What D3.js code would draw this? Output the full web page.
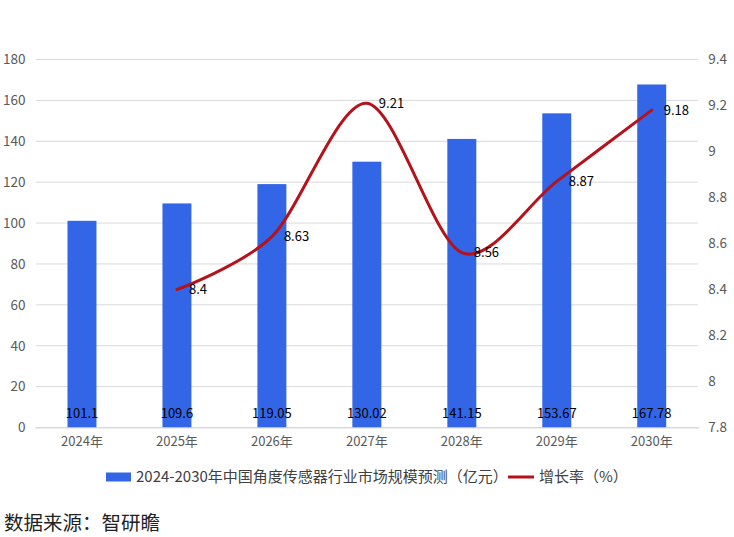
<!DOCTYPE html>
<html><head><meta charset="utf-8">
<script src="https://cdn.jsdelivr.net/npm/d3@7"></script>
<style>body{margin:0;background:#fff;} svg{display:block;}</style>
</head><body>
<svg id="c" width="734" height="537"></svg>
<script>
const categories = ["2024年","2025年","2026年","2027年","2028年","2029年","2030年"];
const marketSize = [101.1,109.6,119.05,130.02,141.15,153.67,167.78];
const growthRate = [null,8.4,8.63,9.21,8.56,8.87,9.18];
const leftTicks = [0,20,40,60,80,100,120,140,160,180];
const rightTicks = [7.8,8,8.2,8.4,8.6,8.8,9,9.2,9.4];
const barLabel = "2024-2030年中国角度传感器行业市场规模预测（亿元）";
const lineLabel = "增长率（%）";
const sourceText = "数据来源：智研瞻";

const font = "'Noto Sans CJK SC', 'Noto Sans', sans-serif";
const svg = d3.select("#c");
const L = 34.5, R = 699.2, T = 59.5, B = 427.5;
const x = d3.scaleBand().domain(categories).range([L, R]).paddingInner(0.695).paddingOuter(0.3475);
const yL = d3.scaleLinear().domain([0,180]).range([B,T]);
const yR = d3.scaleLinear().domain([7.8,9.4]).range([B,T]);

// gridlines
svg.append("g").selectAll("line").data(leftTicks).join("line")
  .attr("x1", 36).attr("x2", 698).attr("y1", d=>yL(d)).attr("y2", d=>yL(d))
  .attr("stroke", "#d9d9d9").attr("stroke-width", 1);

// left axis
const gl = svg.append("g").attr("transform", `translate(${L},0)`)
  .call(d3.axisLeft(yL).tickValues(leftTicks).tickSize(0).tickPadding(9));
gl.select(".domain").remove();
gl.selectAll("text").attr("font-family", font).attr("font-size", 13.5).attr("fill", "#595959");

// right axis
const gr = svg.append("g").attr("transform", `translate(${R},0)`)
  .call(d3.axisRight(yR).tickValues(rightTicks).tickFormat(d3.format("~g")).tickSize(0).tickPadding(9));
gr.select(".domain").remove();
gr.selectAll("text").attr("font-family", font).attr("font-size", 13.5).attr("fill", "#595959");

// bars
svg.append("g").selectAll("rect").data(marketSize).join("rect")
  .attr("x", (d,i)=>x(categories[i])).attr("width", x.bandwidth())
  .attr("y", d=>yL(d)).attr("height", d=>B - yL(d))
  .attr("fill", "#3366e6");

// bottom axis
const gb = svg.append("g").attr("transform", `translate(0,${B})`)
  .call(d3.axisBottom(x).tickSize(0).tickPadding(9));
gb.select(".domain").attr("stroke", "#d9d9d9");
gb.selectAll("text").attr("font-family", font).attr("font-size", 13).attr("fill", "#595959");

// bar value labels
svg.append("g").selectAll("text").data(marketSize).join("text")
  .attr("x", (d,i)=>x(categories[i]) + x.bandwidth()/2).attr("y", 413)
  .attr("dy", "0.35em").attr("text-anchor", "middle")
  .attr("font-family", font).attr("font-size", 13).attr("fill", "#000")
  .text(d=>d);

// line
const pts = growthRate.map((v,i)=>({v, c: categories[i]})).filter(d=>d.v!=null);
const cx = d=>x(d.c) + x.bandwidth()/2;
svg.append("path").datum(pts)
  .attr("d", d3.line().x(cx).y(d=>yR(d.v)).curve(d3.curveCardinal.tension(0.1)))
  .attr("fill", "none").attr("stroke", "#b5121b").attr("stroke-width", 3)
  .attr("stroke-linecap", "round");

svg.append("g").selectAll("text").data(pts).join("text")
  .attr("x", d=>cx(d) + 12).attr("y", d=>yR(d.v)).attr("dy", "0.35em")
  .attr("font-family", font).attr("font-size", 13).attr("fill", "#000")
  .text(d=>d.v);

// legend
const lg = svg.append("g");
lg.append("rect").attr("x", 106).attr("y", 472.5).attr("width", 25).attr("height", 9).attr("fill", "#3366e6");
lg.append("text").attr("x", 136).attr("y", 477).attr("dy", "0.35em")
  .attr("font-family", font).attr("font-size", 15).attr("fill", "#404040").text(barLabel);
lg.append("line").attr("x1", 508).attr("x2", 534).attr("y1", 477).attr("y2", 477)
  .attr("stroke", "#b5121b").attr("stroke-width", 3);
lg.append("text").attr("x", 539).attr("y", 477).attr("dy", "0.35em")
  .attr("font-family", font).attr("font-size", 15).attr("fill", "#404040").text(lineLabel);

// source
svg.append("text").attr("x", 4).attr("y", 523).attr("dy", "0.35em")
  .attr("font-family", font).attr("font-size", 19.5).attr("fill", "#222").text(sourceText);
</script>
</body></html>
